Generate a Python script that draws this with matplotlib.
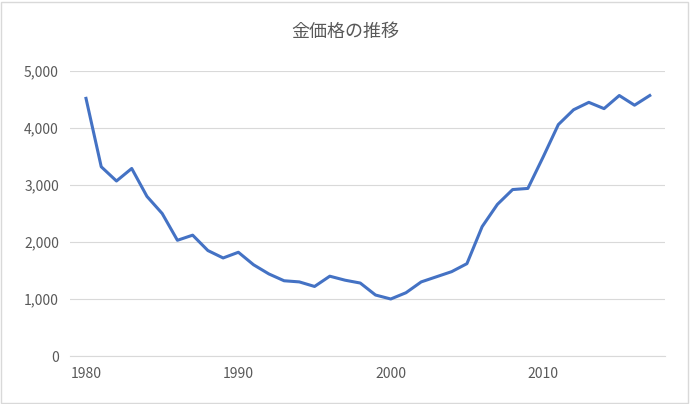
import matplotlib
matplotlib.use("Agg")
import matplotlib.pyplot as plt
from matplotlib.ticker import FuncFormatter
from matplotlib.patches import Rectangle

plt.rcParams['font.family'] = ['Noto Sans CJK JP', 'DejaVu Sans']

years = list(range(1980, 2018))
prices = [4520, 3320, 3070, 3290, 2800, 2500, 2030, 2120, 1850, 1720,
          1820, 1600, 1440, 1320, 1300, 1220, 1400, 1330, 1280, 1070,
          1000, 1110, 1300, 1390, 1480, 1620, 2270, 2660, 2920, 2940,
          3490, 4060, 4320, 4450, 4340, 4570, 4400, 4570]
title = "金価格の推移"

fig = plt.figure(figsize=(6.9, 4.04), dpi=100)
ax = fig.add_axes([70/690, 48/404, (665-70)/690, (356-71)/404])
fig.patches.append(Rectangle((1/690, 1/404), 687/690, 401/404, transform=fig.transFigure,
                             fill=False, edgecolor='#d9d9d9', linewidth=1))
ax.plot(years, prices, color='#4472c4', linewidth=2.2)
ax.set_ylim(0, 5000)
ax.set_xlim(1978.95, 2018)
ax.set_yticks(range(0, 5001, 1000))
ax.set_xticks([1980, 1990, 2000, 2010])
ax.yaxis.set_major_formatter(FuncFormatter(lambda v, p: f"{int(v):,}"))
ax.grid(axis='y', color='#d9d9d9', linewidth=0.8)
ax.set_axisbelow(True)
for s in ['top', 'right', 'left']:
    ax.spines[s].set_visible(False)
ax.spines['bottom'].set_color('#d9d9d9')
ax.tick_params(length=0, labelsize=10, colors='#595959', pad=8)
fig.text(0.5, 1 - 32/404, title, ha='center', va='center', fontsize=13, color='#595959')
fig.savefig("out.png", dpi=100)
